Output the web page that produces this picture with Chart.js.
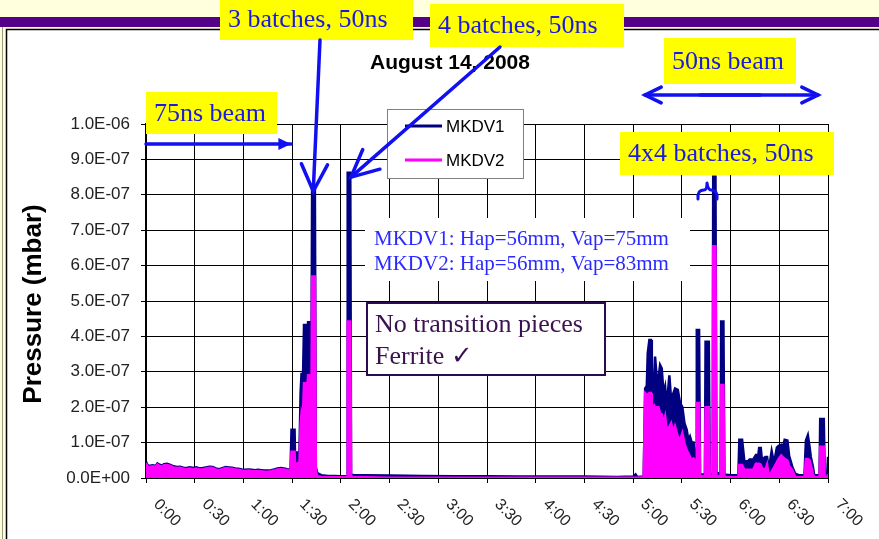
<!DOCTYPE html>
<html>
<head>
<meta charset="utf-8">
<script src="https://cdn.jsdelivr.net/npm/chart.js@4.4.0/dist/chart.umd.min.js"></script>
<style>
  html, body { margin: 0; padding: 0; background: #ffffdd; }
  canvas { display: block; }
</style>
</head>
<body>
<canvas id="pressure_chart" width="879" height="539"></canvas>
<script>
// time in minutes after 0:00, pressure in units of 1E-07 mbar
const minutes = [
  0, 1, 2, 4, 6, 7, 8, 10, 11, 13, 15, 17, 19, 21, 23, 25, 27, 29, 31, 33, 35, 37, 39, 41, 43,
  45, 47, 49, 51, 53, 55, 57, 59, 61, 63, 65, 67, 69, 71, 73, 75, 77, 79, 81, 83, 85, 87, 89,
  89.6, 91.5, 92, 92.8, 94.5, 95.2, 95.8, 96.6, 97.3, 98.6, 99.2, 99.8, 101.4, 101.8, 102.3, 104, 104.6, 105.5, 108, 112, 116, 120,
  123.8, 124.2, 125.8, 126.3, 128, 135, 150, 170, 190, 210, 230, 250, 270, 290, 300, 301.5, 302.5, 306.5,
  307.4, 308.4, 309, 310, 311, 311.5, 313, 313.5, 314.6, 315.6, 316.6, 317.6, 318.7, 319.7, 320.7,
  322.3, 323.4, 324.8, 325.8, 327.5, 328.9, 330.3, 331.6, 333, 334, 335, 336.1, 337.2, 338.2, 338.9,
  339.2, 340.6, 341.2, 344.2, 344.6, 346.6, 347.2, 349, 349.3, 350.7, 351.3, 353.8, 354.2, 355.6, 356.2, 360, 364.8,
  365.4, 367.1, 368.5, 370.7, 371.7, 373.9, 375.6, 377.1, 377.6, 378.6, 379.3, 381.4, 382.5, 383.5, 385.3,
  386.8, 388.5, 389.6, 391.2, 392.2, 393.3, 395, 396.1, 398, 399.8, 402, 405.5, 406.4, 407.6, 408.6,
  409.4, 410.8, 411.5, 414.8, 415.2, 417.4, 418, 419.5, 420
];
const mkdv1 = [
  0.46, 0.36, 0.34, 0.36, 0.34, 0.41, 0.38, 0.35, 0.39, 0.40, 0.37, 0.33, 0.31, 0.32, 0.29, 0.28, 0.30, 0.28, 0.30, 0.27, 0.28, 0.30, 0.32, 0.31, 0.27,
  0.25, 0.28, 0.31, 0.30, 0.29, 0.27, 0.26, 0.24, 0.23, 0.24, 0.23, 0.22, 0.23, 0.22, 0.21, 0.21, 0.22, 0.24, 0.27, 0.28, 0.27, 0.25, 0.24,
  1.36, 1.36, 0.05, 0.72, 0.72, 2.40, 2.97, 2.60, 4.32, 4.32, 3.60, 4.40, 4.40, 2.00, 8.28, 8.28, 0.30, 0.14, 0.08, 0.06, 0.06, 0.05,
  0.05, 8.62, 8.62, 0.10, 0.08, 0.08, 0.07, 0.06, 0.05, 0.05, 0.04, 0.04, 0.04, 0.03, 0.04, 0.10, 0.03, 0.04,
  2.53, 2.60, 3.53, 3.90, 3.90, 2.86, 2.90, 3.43, 2.77, 2.80, 3.19, 3.10, 2.40, 2.58, 2.00,
  2.90, 2.20, 2.40, 2.53, 2.49, 2.12, 2.00, 1.55, 1.36, 1.07, 1.17, 1.00, 1.00, 0.55, 0.30,
  4.18, 4.18, 0.10, 0.10, 3.85, 3.85, 0.10, 0.10, 8.51, 8.51, 0.15, 0.12, 4.42, 4.42, 0.10, 0.08, 0.08,
  1.08, 1.08, 0.47, 0.47, 0.52, 0.52, 0.65, 0.65, 0.85, 0.85, 0.52, 0.59, 0.59, 0.23, 0.76,
  0.42, 0.86, 0.91, 0.94, 0.86, 1.08, 1.06, 0.62, 0.32, 0.12, 0.08, 0.08, 1.06, 1.21, 0.90,
  0.60, 0.30, 0.08, 0.08, 1.67, 1.67, 0.10, 0.10, 0.60
];
const mkdv2 = [
  0.42, 0.33, 0.31, 0.33, 0.31, 0.38, 0.35, 0.32, 0.36, 0.37, 0.34, 0.30, 0.28, 0.29, 0.26, 0.25, 0.27, 0.25, 0.27, 0.24, 0.25, 0.27, 0.29, 0.28, 0.24,
  0.22, 0.25, 0.28, 0.27, 0.26, 0.24, 0.23, 0.21, 0.20, 0.21, 0.20, 0.19, 0.20, 0.19, 0.18, 0.18, 0.19, 0.21, 0.24, 0.25, 0.24, 0.22, 0.20,
  0.74, 0.74, 0.02, 0.40, 0.45, 1.50, 1.84, 1.70, 2.68, 2.68, 2.40, 2.90, 2.90, 1.50, 5.69, 5.69, 0.20, 0.05, 0.03, 0.02, 0.02, 0.02,
  0.02, 4.42, 4.42, 0.05, 0.02, 0.02, 0.01, 0.01, 0.01, 0.01, 0.01, 0.01, 0.01, 0.01, 0.01, 0.01, 0.01, 0.02,
  2.40, 2.35, 2.36, 2.40, 2.40, 2.00, 2.05, 1.97, 2.00, 2.00, 1.83, 1.80, 1.55, 1.74, 1.36,
  1.45, 1.55, 1.27, 1.45, 1.17, 1.07, 1.27, 0.98, 0.79, 0.70, 0.60, 0.51, 0.55, 0.50, 0.20,
  2.12, 2.12, 0.05, 0.05, 2.00, 2.00, 0.05, 0.05, 6.55, 6.55, 0.05, 0.05, 2.63, 2.63, 0.03, 0.02, 0.02,
  0.37, 0.37, 0.23, 0.23, 0.23, 0.23, 0.40, 0.40, 0.40, 0.38, 0.28, 0.23, 0.38, 0.05, 0.18,
  0.30, 0.44, 0.54, 0.64, 0.59, 0.54, 0.49, 0.33, 0.23, 0.03, 0.02, 0.02, 0.54, 0.54, 0.50,
  0.38, 0.10, 0.02, 0.02, 0.88, 0.88, 0.03, 0.03, 0.10
];
const seriesNames = ['MKDV1', 'MKDV2'];
const seriesColors = ['#000080', '#ff00ff'];
const xTickLabels = ['0:00', '0:30', '1:00', '1:30', '2:00', '2:30', '3:00', '3:30',
  '4:00', '4:30', '5:00', '5:30', '6:00', '6:30', '7:00'];
const yTickLabels = ['0.0E+00', '1.0E-07', '2.0E-07', '3.0E-07', '4.0E-07', '5.0E-07',
  '6.0E-07', '7.0E-07', '8.0E-07', '9.0E-07', '1.0E-06'];

const SANS = "Arial, 'Liberation Sans', sans-serif";
const SERIF = "'Times New Roman', 'Liberation Serif', serif";
const NOTE_BLUE = '#1a1ae0';

function vHead(ctx, x1, y1, x2, y2, len, filled) {
  const a = Math.atan2(y2 - y1, x2 - x1);
  const s = 0.45;
  ctx.beginPath();
  ctx.moveTo(x2 - len * Math.cos(a - s), y2 - len * Math.sin(a - s));
  ctx.lineTo(x2, y2);
  ctx.lineTo(x2 - len * Math.cos(a + s), y2 - len * Math.sin(a + s));
  if (filled) { ctx.closePath(); ctx.fill(); } else { ctx.stroke(); }
}

function arrow(ctx, x1, y1, x2, y2, len, filled) {
  ctx.beginPath();
  ctx.moveTo(x1, y1);
  ctx.lineTo(x2, y2);
  ctx.stroke();
  vHead(ctx, x1, y1, x2, y2, len, filled);
}

function yellowNote(ctx, x, y, w, h, text) {
  ctx.fillStyle = '#ffff00';
  ctx.fillRect(x, y, w, h);
  ctx.fillStyle = NOTE_BLUE;
  ctx.font = '26px ' + SERIF;
  ctx.textAlign = 'left';
  ctx.textBaseline = 'middle';
  ctx.fillText(text, x + 8, y + h / 2 + 1);
}

const backdrop = {
  id: 'backdrop',
  beforeDraw(chart) {
    const ctx = chart.ctx;
    ctx.save();
    ctx.fillStyle = '#ffffdd';
    ctx.fillRect(0, 0, chart.width, chart.height);
    ctx.fillStyle = '#540088';
    ctx.fillRect(0, 17, chart.width, 10);
    ctx.fillStyle = '#ffffff';
    ctx.fillRect(6, 29, chart.width, chart.height);
    ctx.strokeStyle = '#000';
    ctx.lineWidth = 1.5;
    ctx.strokeRect(6.5, 29.5, chart.width + 10, chart.height + 10);
    ctx.strokeStyle = '#9a9a80';
    ctx.lineWidth = 1;
    ctx.beginPath();
    ctx.moveTo(2.5, 27);
    ctx.lineTo(2.5, chart.height);
    ctx.stroke();
    ctx.restore();
  }
};

const notes = {
  id: 'notes',
  afterDraw(chart) {
    const ctx = chart.ctx;
    const xs = chart.scales.x;
    const ys = chart.scales.y;
    ctx.save();

    // rotated time labels
    ctx.font = '16px ' + SANS;
    ctx.fillStyle = '#222';
    ctx.textAlign = 'left';
    ctx.textBaseline = 'middle';
    xTickLabels.forEach((lab, i) => {
      const px = xs.getPixelForValue(i * 30);
      ctx.save();
      ctx.translate(px + 10, ys.bottom + 24);
      ctx.rotate(Math.PI / 4);
      ctx.fillText(lab, 0, 0);
      ctx.restore();
    });

    // title and axis title
    ctx.fillStyle = '#000';
    ctx.textAlign = 'center';
    ctx.font = 'bold 21px ' + SANS;
    ctx.fillText('August 14, 2008', 450, 63);
    ctx.save();
    ctx.translate(34, 304);
    ctx.rotate(-Math.PI / 2);
    ctx.font = 'bold 26px ' + SANS;
    ctx.fillText('Pressure (mbar)', 0, 0);
    ctx.restore();

    // legend box
    ctx.fillStyle = '#fff';
    ctx.fillRect(387, 109, 136, 69);
    ctx.strokeStyle = '#808080';
    ctx.lineWidth = 1;
    ctx.strokeRect(387.5, 109.5, 136, 69);
    chart.data.datasets.forEach((ds, i) => {
      const ly = 126 + i * 34;
      ctx.strokeStyle = ds.borderColor;
      ctx.lineWidth = 3;
      ctx.beginPath();
      ctx.moveTo(405, ly);
      ctx.lineTo(442, ly);
      ctx.stroke();
      ctx.fillStyle = '#000';
      ctx.font = '17px ' + SANS;
      ctx.textAlign = 'left';
      ctx.fillText(ds.label, 446, ly + 1);
    });

    // aperture note
    ctx.fillStyle = '#fff';
    ctx.fillRect(365, 218, 325, 63);
    ctx.fillStyle = '#2a2aff';
    ctx.font = '21px ' + SERIF;
    ctx.textBaseline = 'alphabetic';
    ctx.fillText('MKDV1: Hap=56mm, Vap=75mm', 374, 245);
    ctx.fillText('MKDV2: Hap=56mm, Vap=83mm', 374, 270);

    // ferrite box
    ctx.fillStyle = '#fff';
    ctx.fillRect(367, 303, 238, 72);
    ctx.strokeStyle = '#2b0b4d';
    ctx.lineWidth = 2;
    ctx.strokeRect(367, 303, 238, 72);
    ctx.fillStyle = '#3a1250';
    ctx.font = '26px ' + SERIF;
    ctx.fillText('No transition pieces', 375, 332);
    ctx.fillText('Ferrite \u2713', 375, 364);

    // yellow labels
    yellowNote(ctx, 220, -2, 193, 42, '3 batches, 50ns');
    yellowNote(ctx, 430, 4, 194, 43, '4 batches, 50ns');
    yellowNote(ctx, 664, 38, 132, 46, '50ns beam');
    yellowNote(ctx, 146, 92, 131, 42, '75ns beam');
    yellowNote(ctx, 620, 132, 214, 43, '4x4 batches, 50ns');

    // arrows
    ctx.strokeStyle = '#1010f0';
    ctx.fillStyle = '#1010f0';
    ctx.lineWidth = 3.5;
    ctx.lineCap = 'round';
    arrow(ctx, 146, 144, 291, 144, 14, true);
    arrow(ctx, 320, 40, xs.getPixelForValue(103), ys.getPixelForValue(8.1), 30, false);
    arrow(ctx, 500, 47, xs.getPixelForValue(125) + 2, ys.getPixelForValue(8.5), 30, false);
    arrow(ctx, 700, 95, 818, 95, 18, false);
    arrow(ctx, 760, 95, 645, 95, 18, false);

    // brace over the 4x4 batches
    ctx.lineWidth = 3;
    ctx.lineJoin = 'round';
    ctx.beginPath();
    ctx.moveTo(698, 199);
    ctx.quadraticCurveTo(697, 190, 704, 190);
    ctx.quadraticCurveTo(707, 190, 707, 183);
    ctx.quadraticCurveTo(708, 190, 711, 190);
    ctx.quadraticCurveTo(718, 190, 717, 199);
    ctx.stroke();

    ctx.restore();
  }
};

new Chart(document.getElementById('pressure_chart'), {
  type: 'line',
  data: {
    datasets: [{
      label: seriesNames[0],
      data: minutes.map((t, i) => ({ x: t, y: mkdv1[i] })),
      borderColor: seriesColors[0],
      backgroundColor: seriesColors[0],
      borderWidth: 2.5,
      fill: 'origin',
      order: 1
    },
    {
      label: seriesNames[1],
      data: minutes.map((t, i) => ({ x: t, y: mkdv2[i] })),
      borderColor: seriesColors[1],
      backgroundColor: seriesColors[1],
      borderWidth: 2.5,
      fill: 'origin',
      order: 0
    }]
  },
  options: {
    responsive: false,
    animation: false,
    layout: { padding: { left: 0, top: 124, right: 51, bottom: 0 } },
    elements: { point: { radius: 0 }, line: { tension: 0 } },
    plugins: {
      legend: { display: false },
      tooltip: { enabled: false },
      title: { display: false }
    },
    scales: {
      x: {
        type: 'linear',
        min: 0,
        max: 420,
        ticks: { stepSize: 30, display: false },
        grid: { color: '#000', lineWidth: 1, tickLength: 5 },
        border: { color: '#000', width: 1 },
        afterFit: s => { s.height = 61; }
      },
      y: {
        min: 0,
        max: 10,
        ticks: {
          stepSize: 1,
          padding: 11,
          color: '#222',
          font: { family: SANS, size: 17 },
          callback: v => yTickLabels[Math.round(v)]
        },
        grid: { color: '#000', lineWidth: 1, tickLength: 5 },
        border: { color: '#000', width: 2 },
        afterFit: s => { s.width = 146; }
      }
    }
  },
  plugins: [backdrop, notes]
});
</script>
</body>
</html>
